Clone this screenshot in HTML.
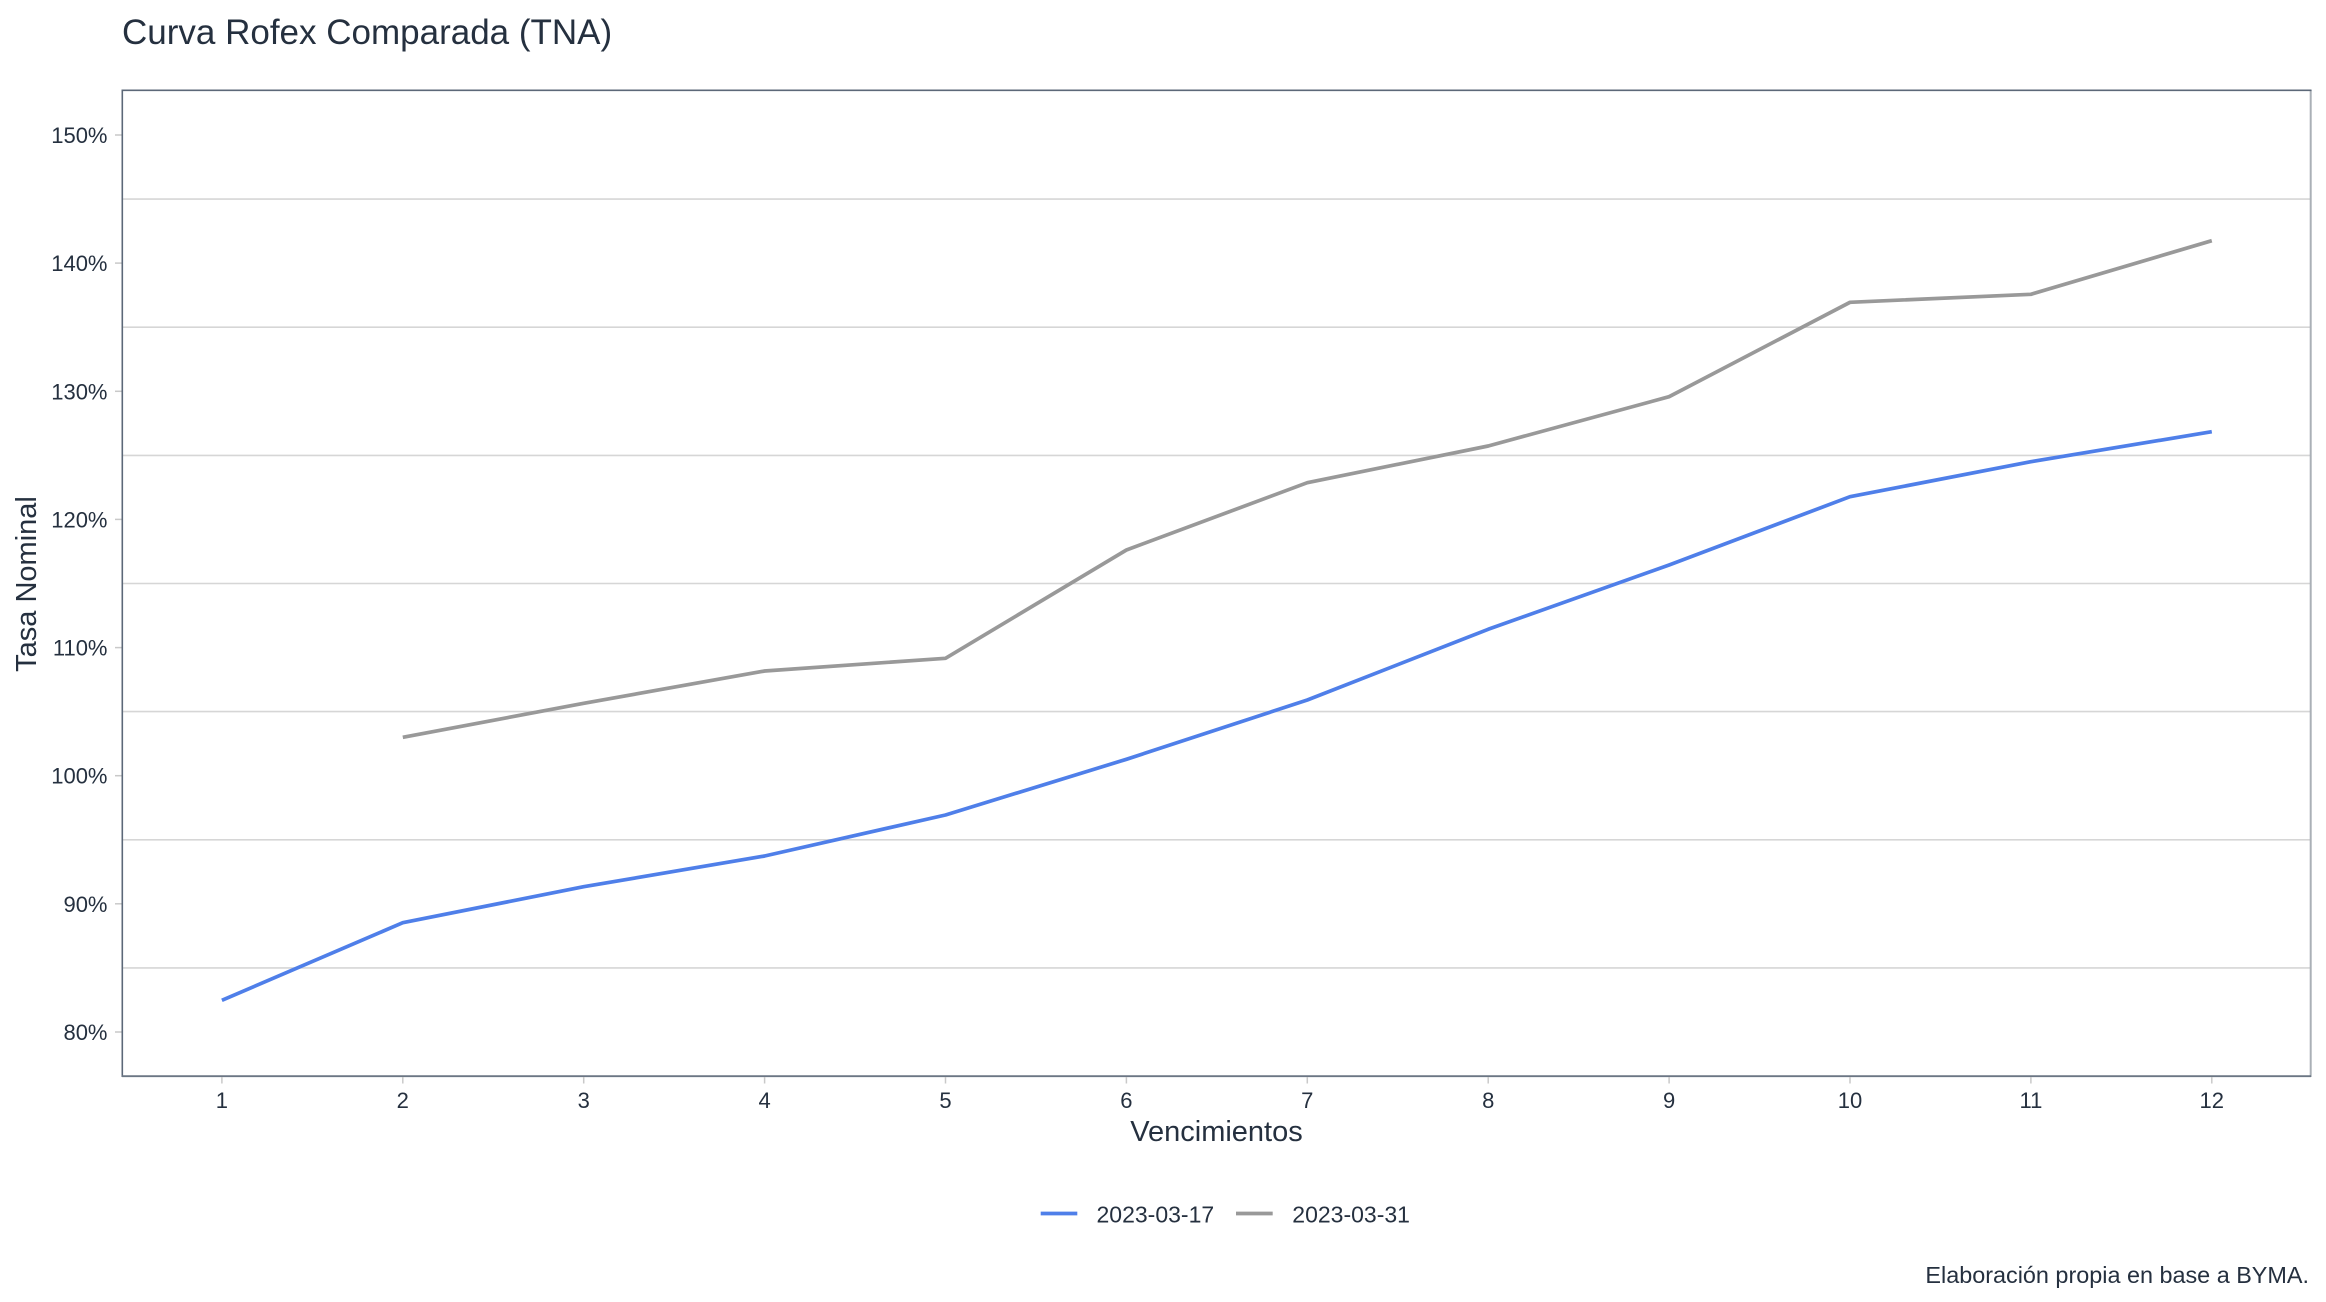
<!DOCTYPE html>
<html>
<head>
<meta charset="utf-8">
<style>
  html,body{margin:0;padding:0;background:#ffffff;}
  svg{display:block;}
  text{font-family:"Liberation Sans",Arial,sans-serif;fill:#25303f;}
</style>
</head>
<body>
<svg width="2326" height="1302" viewBox="0 0 2326 1302" xmlns="http://www.w3.org/2000/svg">
  <rect x="0" y="0" width="2326" height="1302" fill="#ffffff"/>

  <!-- Title -->
  <text x="122" y="44" font-size="35">Curva Rofex Comparada (TNA)</text>

  <!-- gridlines (minor) -->
  <g stroke="#d6d6d6" stroke-width="1.6">
    <line x1="123" y1="199.1" x2="2310" y2="199.1"/>
    <line x1="123" y1="327.2" x2="2310" y2="327.2"/>
    <line x1="123" y1="455.4" x2="2310" y2="455.4"/>
    <line x1="123" y1="583.5" x2="2310" y2="583.5"/>
    <line x1="123" y1="711.6" x2="2310" y2="711.6"/>
    <line x1="123" y1="839.8" x2="2310" y2="839.8"/>
    <line x1="123" y1="967.9" x2="2310" y2="967.9"/>
  </g>

  <!-- Panel border -->
  <line x1="2310.7" y1="90" x2="2310.7" y2="1077" stroke="#aab0b7" stroke-width="2"/>
  <line x1="122.3" y1="90.3" x2="2311.5" y2="90.3" stroke="#5c6878" stroke-width="1.6"/>
  <line x1="122.3" y1="89.5" x2="122.3" y2="1077" stroke="#5c6878" stroke-width="1.6"/>
  <line x1="122" y1="1076.2" x2="2311" y2="1076.2" stroke="#6b7684" stroke-width="1.8"/>

  <!-- Y ticks -->
  <g stroke="#c9c9c9" stroke-width="1.5">
    <line x1="115" y1="135" x2="121.5" y2="135"/>
    <line x1="115" y1="263.1" x2="121.5" y2="263.1"/>
    <line x1="115" y1="391.3" x2="121.5" y2="391.3"/>
    <line x1="115" y1="519.4" x2="121.5" y2="519.4"/>
    <line x1="115" y1="647.6" x2="121.5" y2="647.6"/>
    <line x1="115" y1="775.7" x2="121.5" y2="775.7"/>
    <line x1="115" y1="903.8" x2="121.5" y2="903.8"/>
    <line x1="115" y1="1032" x2="121.5" y2="1032"/>
  </g>
  <g font-size="22" text-anchor="end">
    <text x="107.5" y="143">150%</text>
    <text x="107.5" y="271.1">140%</text>
    <text x="107.5" y="399.3">130%</text>
    <text x="107.5" y="527.4">120%</text>
    <text x="107.5" y="655.6">110%</text>
    <text x="107.5" y="783.7">100%</text>
    <text x="107.5" y="911.8">90%</text>
    <text x="107.5" y="1040">80%</text>
  </g>

  <!-- X ticks -->
  <g stroke="#c9c9c9" stroke-width="1.5">
    <line x1="221.9" y1="1077" x2="221.9" y2="1083.5"/>
    <line x1="402.8" y1="1077" x2="402.8" y2="1083.5"/>
    <line x1="583.7" y1="1077" x2="583.7" y2="1083.5"/>
    <line x1="764.6" y1="1077" x2="764.6" y2="1083.5"/>
    <line x1="945.5" y1="1077" x2="945.5" y2="1083.5"/>
    <line x1="1126.4" y1="1077" x2="1126.4" y2="1083.5"/>
    <line x1="1307.3" y1="1077" x2="1307.3" y2="1083.5"/>
    <line x1="1488.2" y1="1077" x2="1488.2" y2="1083.5"/>
    <line x1="1669.1" y1="1077" x2="1669.1" y2="1083.5"/>
    <line x1="1850" y1="1077" x2="1850" y2="1083.5"/>
    <line x1="2030.9" y1="1077" x2="2030.9" y2="1083.5"/>
    <line x1="2211.8" y1="1077" x2="2211.8" y2="1083.5"/>
  </g>
  <g font-size="22" text-anchor="middle">
    <text x="221.9" y="1108">1</text>
    <text x="402.8" y="1108">2</text>
    <text x="583.7" y="1108">3</text>
    <text x="764.6" y="1108">4</text>
    <text x="945.5" y="1108">5</text>
    <text x="1126.4" y="1108">6</text>
    <text x="1307.3" y="1108">7</text>
    <text x="1488.2" y="1108">8</text>
    <text x="1669.1" y="1108">9</text>
    <text x="1850" y="1108">10</text>
    <text x="2030.9" y="1108">11</text>
    <text x="2211.8" y="1108">12</text>
  </g>

  <!-- Axis titles -->
  <text x="1216.5" y="1141" font-size="29" text-anchor="middle">Vencimientos</text>
  <text transform="translate(36,584) rotate(-90)" font-size="29" text-anchor="middle">Tasa Nominal</text>

  <!-- Series -->
  <polyline fill="none" stroke="#999999" stroke-width="3.7" stroke-linejoin="round"
    points="402.8,737.3 583.7,703.3 764.6,671.0 945.5,658.3 1126.4,550.0 1307.3,482.7 1488.2,446.0 1669.1,396.7 1850.0,302.3 2030.9,294.3 2211.8,240.7"/>
  <polyline fill="none" stroke="#4f7fe9" stroke-width="3.7" stroke-linejoin="round"
    points="221.9,1000.3 402.8,922.7 583.7,886.7 764.6,856.0 945.5,815.0 1126.4,759.3 1307.3,700.0 1488.2,629.3 1669.1,565.0 1850.0,496.7 2030.9,461.7 2211.8,431.7"/>

  <!-- Legend -->
  <line x1="1040.7" y1="1213.5" x2="1077.3" y2="1213.5" stroke="#4f7fe9" stroke-width="3.7"/>
  <text x="1096.5" y="1222.5" font-size="23">2023-03-17</text>
  <line x1="1236" y1="1213.5" x2="1272.7" y2="1213.5" stroke="#999999" stroke-width="3.7"/>
  <text x="1292.3" y="1222.5" font-size="23">2023-03-31</text>

  <!-- Caption -->
  <text x="2309" y="1283" font-size="23.4" text-anchor="end">Elaboración propia en base a BYMA.</text>
</svg>
</body>
</html>
